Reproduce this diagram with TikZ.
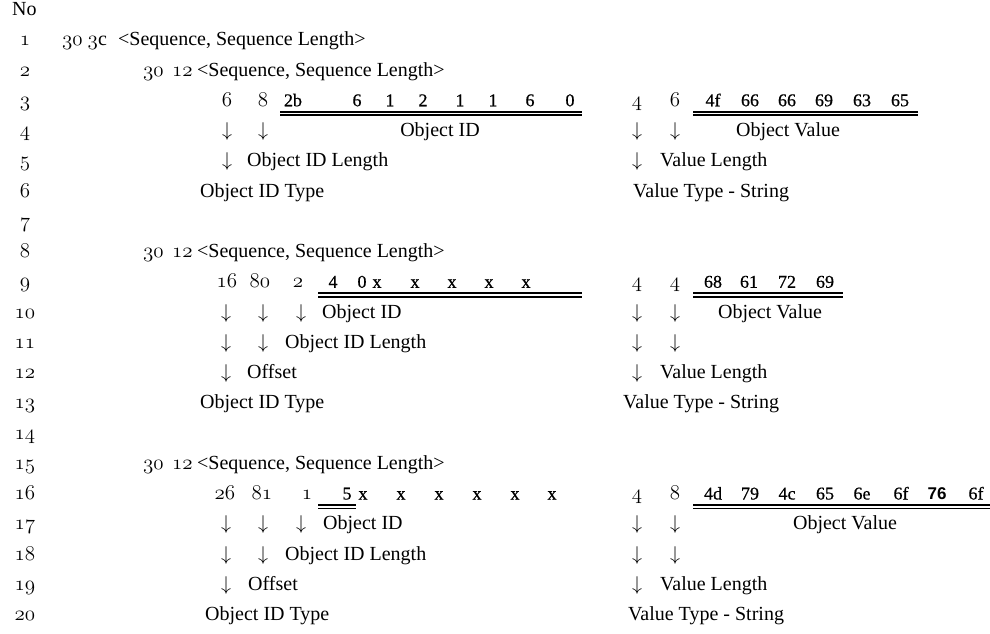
\RequirePackage{fix-cm}
\documentclass[tikz,border=0pt]{standalone}
\usepackage{fontspec}
\setmainfont{Liberation Serif}
\newfontfamily\bytefam{Liberation Serif}[FakeBold=0.6]
\newfontfamily\boldsans{Liberation Sans}
\newcommand\mainsz{\fontsize{20}{24}\selectfont}
\newcommand\bytesz{\fontsize{18}{22}\selectfont\bytefam}
% old-style figures taken from the Computer Modern math italic font
\newcommand\osn[1]{{\fontencoding{OML}\fontfamily{cmm}\fontseries{m}\fontshape{it}\fontsize{21}{24}\selectfont #1}}
% double rule under a run of bytes: name, x from, x to, baseline
\newcommand\dblrule[4]{%
  \coordinate (#1-s) at (#2,#4);
  \coordinate (#1-e) at (#3,#4);
  \draw[rule] ([yshift=-5.5pt]#1-s) -- ([yshift=-5.5pt]#1-e);
  \draw[rule] ([yshift=-9pt]#1-s) -- ([yshift=-9pt]#1-e);}
\newcommand\da{$\downarrow$}
\begin{document}
\begin{tikzpicture}[x=1pt,y=-1pt,
  lbl/.style={anchor=base west,inner sep=0pt,font=\mainsz},
  mid/.style={anchor=base,inner sep=0pt,font=\mainsz},
  byte/.style={anchor=base,inner sep=0pt,font=\bytesz},
  rule/.style={line width=1.6pt}]
\fill[white] (0,0) rectangle (990,633);
\useasboundingbox (0,0) rectangle (990,633);

% line numbers
\node[lbl] (hdr) at (12,15.5) {No};
\foreach \i in {1,...,20}
  \node[mid] (n\i) at (25,{15.5+30.25*\i}) {\osn{\i}};

% line 1
\node[lbl] (l1a) at (62,45.75) {\osn{30} \osn{3}c};
\node[lbl] (l1b) at (118,45.75) {<Sequence, Sequence Length>};

% sequence headers (lines 2, 8, 15)
\foreach \r/\y in {2/76,8/257.5,15/469.25}{
  \node[lbl] (s\r a) at (143,\y) {\osn{30}};
  \node[lbl] (s\r b) at (172,\y) {\osn{12}};
  \node[lbl] (s\r c) at (197,\y) {<Sequence, Sequence Length>};
}

% ---- block 1 ----
\node[mid] (t3a) at (227,106.25) {\osn{6}};
\node[mid] (t3b) at (263,106.25) {\osn{8}};
\foreach \x/\v [count=\k] in {293/2b,357/6,390/1,423/2,460/1,493/1,530/6,570/0}
  \node[byte] (b3\k) at (\x,106.25) {\v};
\dblrule{u3l}{280}{582}{106.25}
\node[mid] (t3c) at (637,106.25) {\osn{4}};
\node[mid] (t3d) at (675,106.25) {\osn{6}};
\foreach \x/\v [count=\k] in {713/4f,750/66,787/66,824/69,862/63,900/65}
  \node[byte] (v3\k) at (\x,106.25) {\v};
\dblrule{u3r}{693}{918}{106.25}

\node[mid] (a4a) at (227,136.5) {\da};
\node[mid] (a4b) at (263,136.5) {\da};
\node[mid] (oid4) at (440,136.5) {Object ID};
\node[mid] (a4c) at (637,136.5) {\da};
\node[mid] (a4d) at (675,136.5) {\da};
\node[mid] (ov4) at (788,136.5) {Object Value};

\node[mid] (a5a) at (227,166.75) {\da};
\node[lbl] (len5) at (247,166.75) {Object ID Length};
\node[mid] (a5b) at (637,166.75) {\da};
\node[lbl] (vl5) at (660,166.75) {Value Length};

\node[lbl] (typ6) at (200,197) {Object ID Type};
\node[lbl] (vt6) at (633,197) {Value Type - String};

% ---- block 2 ----
\node[mid] (t9a) at (227,287.75) {\osn{16}};
\node[mid] (t9b) at (260,287.75) {\osn{80}};
\node[mid] (t9c) at (298,287.75) {\osn{2}};
\foreach \x/\v [count=\k] in {333/4,362/0,377/x,415/x,452/x,489/x,526/x}
  \node[byte] (b9\k) at (\x,287.75) {\v};
\dblrule{u9l}{318}{582}{287.75}
\node[mid] (t9d) at (637,287.75) {\osn{4}};
\node[mid] (t9e) at (675,287.75) {\osn{4}};
\foreach \x/\v [count=\k] in {713/68,749/61,787/72,825/69}
  \node[byte] (v9\k) at (\x,287.75) {\v};
\dblrule{u9r}{693}{843}{287.75}

\node[mid] (a10a) at (226,318) {\da};
\node[mid] (a10b) at (263,318) {\da};
\node[mid] (a10c) at (301,318) {\da};
\node[lbl] (oid10) at (322,318) {Object ID};
\node[mid] (a10d) at (637,318) {\da};
\node[mid] (a10e) at (675,318) {\da};
\node[mid] (ov10) at (770,318) {Object Value};

\node[mid] (a11a) at (226,348.25) {\da};
\node[mid] (a11b) at (263,348.25) {\da};
\node[lbl] (len11) at (285,348.25) {Object ID Length};
\node[mid] (a11c) at (637,348.25) {\da};
\node[mid] (a11d) at (675,348.25) {\da};

\node[mid] (a12a) at (226,378.5) {\da};
\node[lbl] (off12) at (247,378.5) {Offset};
\node[mid] (a12b) at (637,378.5) {\da};
\node[lbl] (vl12) at (660,378.5) {Value Length};

\node[lbl] (typ13) at (200,408.75) {Object ID Type};
\node[lbl] (vt13) at (623,408.75) {Value Type - String};

% ---- block 3 ----
\node[mid] (t16a) at (225,499.5) {\osn{26}};
\node[mid] (t16b) at (262,499.5) {\osn{81}};
\node[mid] (t16c) at (307,499.5) {\osn{1}};
\foreach \x/\v [count=\k] in {347/5,363/x,401/x,439/x,477/x,515/x,552/x}
  \node[byte] (b16\k) at (\x,499.5) {\v};
\dblrule{u16l}{318}{356}{499.5}
\node[mid] (t16d) at (637,499.5) {\osn{4}};
\node[mid] (t16e) at (675,499.5) {\osn{8}};
\foreach \x/\v [count=\k] in {713/4d,750/79,787/4c,825/65,862/6e,901/6f}
  \node[byte] (v16\k) at (\x,499.5) {\v};
\node[anchor=base,inner sep=0pt,font={\fontsize{17}{20}\selectfont\boldsans\bfseries}] (v167) at (937,499.5) {76};
\node[byte] (v168) at (976,499.5) {6f};
\dblrule{u16r}{693}{990}{499.5}

\node[mid] (a17a) at (226,529.75) {\da};
\node[mid] (a17b) at (263,529.75) {\da};
\node[mid] (a17c) at (301,529.75) {\da};
\node[lbl] (oid17) at (323,529.75) {Object ID};
\node[mid] (a17d) at (637,529.75) {\da};
\node[mid] (a17e) at (675,529.75) {\da};
\node[mid] (ov17) at (845,529.75) {Object Value};

\node[mid] (a18a) at (226,560) {\da};
\node[mid] (a18b) at (263,560) {\da};
\node[lbl] (len18) at (285,560) {Object ID Length};
\node[mid] (a18c) at (637,560) {\da};
\node[mid] (a18d) at (675,560) {\da};

\node[mid] (a19a) at (226,590.25) {\da};
\node[lbl] (off19) at (248,590.25) {Offset};
\node[mid] (a19b) at (637,590.25) {\da};
\node[lbl] (vl19) at (660,590.25) {Value Length};

\node[lbl] (typ20) at (205,620.5) {Object ID Type};
\node[lbl] (vt20) at (628,620.5) {Value Type - String};
\end{tikzpicture}
\end{document}
